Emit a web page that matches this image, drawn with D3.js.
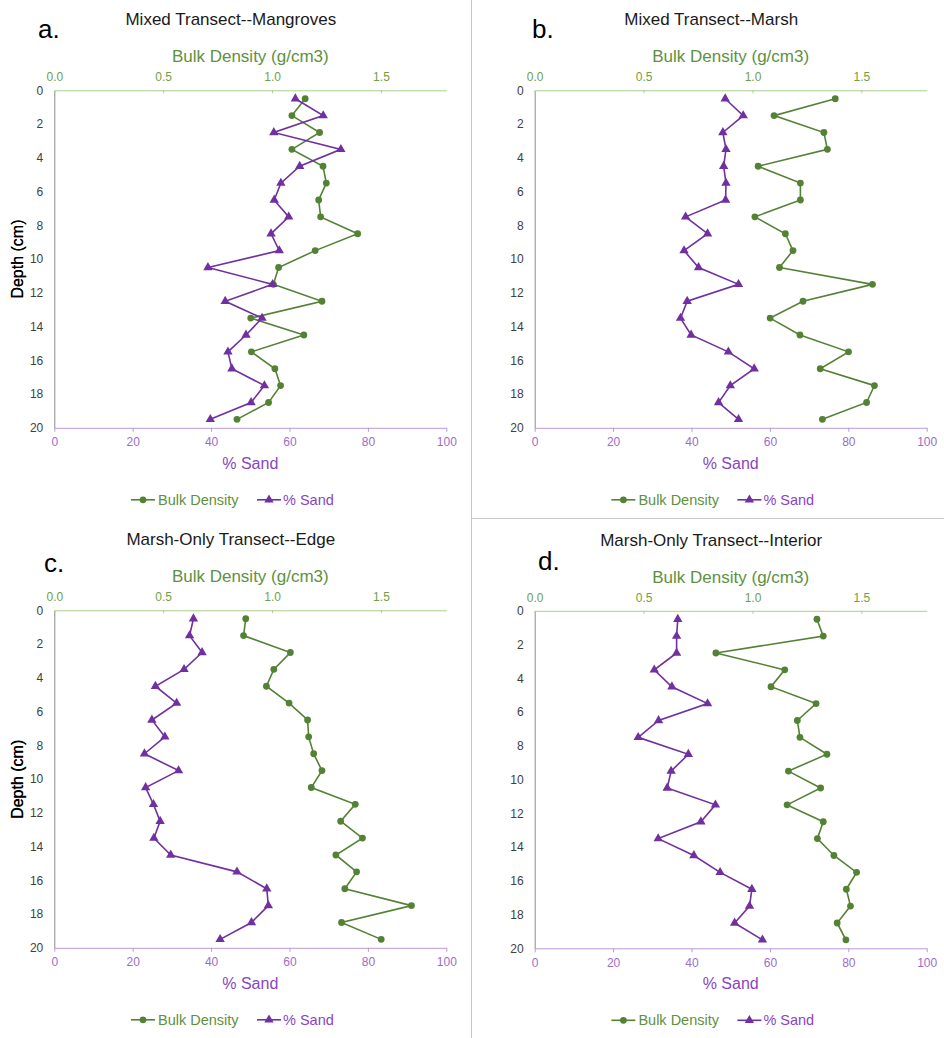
<!DOCTYPE html>
<html>
<head>
<meta charset="utf-8">
<script src="https://cdn.jsdelivr.net/npm/d3@7/dist/d3.min.js"></script>
<style>
  body { margin: 0; background: #fff; }
  svg { font-family: "Liberation Sans", Arial, sans-serif; }
</style>
</head>
<body>
<svg id="chart" width="944" height="1038"></svg>
<script>
// depth of each sample (cm, mid-point of 1 cm slices)
const depths = [0.5, 1.5, 2.5, 3.5, 4.5, 5.5, 6.5, 7.5, 8.5, 9.5,
                10.5, 11.5, 12.5, 13.5, 14.5, 15.5, 16.5, 17.5, 18.5, 19.5];

const depthTicks = [0, 2, 4, 6, 8, 10, 12, 14, 16, 18, 20];
const sandTicks = [0, 20, 40, 60, 80, 100];
const bdTicks = [0, 0.5, 1.0, 1.5];

const panelLetters = ["a.", "b.", "c.", "d."];
const panelTitles = [
  "Mixed Transect--Mangroves",
  "Mixed Transect--Marsh",
  "Marsh-Only Transect--Edge",
  "Marsh-Only Transect--Interior"
];

// bulk density (g/cm3)
const bdMangroves = [1.152, 1.091, 1.218, 1.091, 1.234, 1.249, 1.214, 1.223, 1.393, 1.198,
                     1.030, 1.006, 1.229, 0.902, 1.146, 0.905, 1.013, 1.039, 0.984, 0.839];
const bdMarsh = [1.380, 1.099, 1.328, 1.344, 1.026, 1.220, 1.220, 1.011, 1.151, 1.186,
                 1.124, 1.551, 1.232, 1.081, 1.218, 1.441, 1.311, 1.560, 1.524, 1.321];
const bdEdge = [0.879, 0.869, 1.084, 1.008, 0.974, 1.078, 1.163, 1.168, 1.191, 1.229,
                1.180, 1.382, 1.315, 1.415, 1.293, 1.388, 1.334, 1.640, 1.319, 1.501];
const bdInterior = [1.296, 1.325, 0.832, 1.148, 1.085, 1.292, 1.206, 1.218, 1.342, 1.165,
                    1.313, 1.159, 1.325, 1.298, 1.374, 1.478, 1.431, 1.450, 1.389, 1.429];

// % sand
const sandMangroves = [61.5, 68.6, 56.0, 73.1, 62.6, 57.8, 56.1, 59.8, 55.3, 57.4,
                       39.2, 55.7, 43.6, 53.0, 48.9, 44.3, 45.3, 53.6, 50.2, 39.8];
const sandMarsh = [48.6, 53.2, 48.0, 48.8, 48.2, 48.8, 48.7, 38.5, 44.1, 38.1,
                   41.8, 52.0, 38.9, 37.2, 39.9, 49.4, 56.0, 49.9, 46.9, 52.0];
const sandEdge = [35.5, 34.5, 37.7, 33.1, 25.8, 31.2, 24.9, 28.2, 23.0, 31.7,
                  23.3, 25.3, 27.0, 25.4, 29.7, 46.6, 54.2, 54.6, 50.3, 42.3];
const sandInterior = [36.5, 36.2, 36.2, 30.5, 35.0, 44.1, 31.6, 26.4, 39.2, 34.8,
                      33.8, 46.1, 42.4, 31.5, 40.6, 47.3, 55.4, 54.8, 51.0, 58.1];

const bdSeries = [bdMangroves, bdMarsh, bdEdge, bdInterior];
const sandSeries = [sandMangroves, sandMarsh, sandEdge, sandInterior];

const green = "#548235", greenLight = "#a9d18e", greenText = "#70a048", greenTitle = "#5e9140";
const purple = "#7030a0", purpleLight = "#b99ad8", purpleText = "#9c6bcb", purpleTitle = "#8a45c2";

const svg = d3.select("#chart");

// panel frame lines (right-hand panels are boxed in grey)
svg.append("line").attr("x1", 471.5).attr("x2", 471.5).attr("y1", 0).attr("y2", 1038)
  .attr("stroke", "#c8c8c8").attr("stroke-width", 1);
svg.append("line").attr("x1", 471).attr("x2", 944).attr("y1", 518.5).attr("y2", 518.5)
  .attr("stroke", "#c8c8c8").attr("stroke-width", 1);

const W = 392, H = 337.5;
const offsets = [[54.3, 0], [534.7, 0], [54.3, 520], [534.7, 520.5]];
const letterPos = [[38, 38], [532, 38], [44, 572], [538, 570]];

const triangle = d3.symbol().type(d3.symbolTriangle).size(38);

offsets.forEach(([ox, oy], i) => {
  const g = svg.append("g").attr("transform", `translate(${ox},${oy + 90.3})`);

  const x = d3.scaleLinear().domain([0, 100]).range([0, W]);
  const xb = d3.scaleLinear().domain([0, 1.8]).range([0, W]);
  const y = d3.scaleLinear().domain([0, 20]).range([0, H]);

  // titles
  svg.append("text").attr("x", ox + W / 2 - 19.5).attr("y", oy + 25)
    .attr("text-anchor", "middle").attr("font-size", 17).attr("fill", "#1a1a1a")
    .text(panelTitles[i]);
  svg.append("text").attr("x", letterPos[i][0]).attr("y", letterPos[i][1])
    .attr("font-size", 26).attr("fill", "#000").text(panelLetters[i]);

  // left axis (depth)
  const yAxis = g.append("g").call(d3.axisLeft(y).tickValues(depthTicks).tickSize(0).tickPadding(11));
  yAxis.select(".domain").attr("stroke", "#8c8c8c");
  yAxis.selectAll("text").attr("font-size", 12).attr("fill", "#404040")
    .attr("font-family", "Liberation Sans, Arial, sans-serif");

  g.append("text").attr("transform", `translate(${17.5 - ox},${H / 2}) rotate(-90)`)
    .attr("text-anchor", "middle").attr("dy", "0.35em").attr("font-size", 16).attr("fill", "#000")
    .text("Depth (cm)");

  // top axis (bulk density)
  const topAxis = g.append("g").call(d3.axisTop(xb).tickValues(bdTicks).tickFormat(d3.format(".1f"))
    .tickSizeInner(-3).tickSizeOuter(0).tickPadding(9));
  topAxis.select(".domain").attr("stroke", greenLight);
  topAxis.selectAll(".tick line").attr("stroke", greenLight);
  topAxis.selectAll("text").attr("font-size", 12).attr("fill", greenText)
    .attr("font-family", "Liberation Sans, Arial, sans-serif");
  g.append("text").attr("x", W / 2).attr("y", -28)
    .attr("text-anchor", "middle").attr("font-size", 17).attr("fill", greenTitle)
    .text("Bulk Density (g/cm3)");

  // bottom axis (% sand)
  const botAxis = g.append("g").attr("transform", `translate(0,${H})`)
    .call(d3.axisBottom(x).tickValues(sandTicks).tickSizeInner(4).tickSizeOuter(0).tickPadding(6));
  botAxis.select(".domain").attr("stroke", purpleLight);
  botAxis.selectAll(".tick line").attr("stroke", purpleLight);
  botAxis.selectAll("text").attr("font-size", 12).attr("fill", purpleText)
    .attr("font-family", "Liberation Sans, Arial, sans-serif");
  g.append("text").attr("x", W / 2).attr("y", H + 41)
    .attr("text-anchor", "middle").attr("font-size", 16).attr("fill", purpleTitle)
    .text("% Sand");

  // series: bulk density
  const bd = bdSeries[i].map((v, k) => ({ v, d: depths[k] }));
  g.append("path").datum(bd)
    .attr("fill", "none").attr("stroke", green).attr("stroke-width", 1.6)
    .attr("d", d3.line().x(p => xb(p.v)).y(p => y(p.d)));
  g.selectAll(".bdpt").data(bd).join("circle").attr("class", "bdpt")
    .attr("cx", p => xb(p.v)).attr("cy", p => y(p.d)).attr("r", 3.4).attr("fill", green);

  // series: % sand
  const sand = sandSeries[i].map((v, k) => ({ v, d: depths[k] }));
  g.append("path").datum(sand)
    .attr("fill", "none").attr("stroke", purple).attr("stroke-width", 1.6)
    .attr("d", d3.line().x(p => x(p.v)).y(p => y(p.d)));
  g.selectAll(".sandpt").data(sand).join("path").attr("class", "sandpt")
    .attr("transform", p => `translate(${x(p.v)},${y(p.d)})`)
    .attr("d", triangle).attr("fill", purple);

  // legend
  const lg = g.append("g").attr("transform", `translate(${131 - 54.3},${H + 72})`);
  lg.append("line").attr("x1", 0).attr("x2", 24).attr("stroke", green).attr("stroke-width", 1.6);
  lg.append("circle").attr("cx", 12).attr("r", 3.4).attr("fill", green);
  lg.append("text").attr("x", 27).attr("dy", "0.35em").attr("font-size", 14.5).attr("fill", greenTitle)
    .text("Bulk Density");
  lg.append("line").attr("x1", 126).attr("x2", 150).attr("stroke", purple).attr("stroke-width", 1.6);
  lg.append("path").attr("transform", "translate(138,0)").attr("d", triangle).attr("fill", purple);
  lg.append("text").attr("x", 152).attr("dy", "0.35em").attr("font-size", 14.5).attr("fill", purpleTitle)
    .text("% Sand");
});
</script>
</body>
</html>
